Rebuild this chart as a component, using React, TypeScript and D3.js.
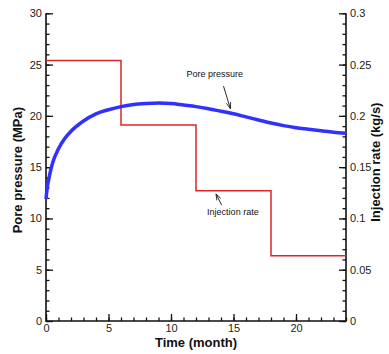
import React, { useEffect, useRef } from "react";
import * as d3 from "d3";

// pore pressure (MPa) vs time (month)
const pressureTime = [0, 0.1, 0.25, 0.5, 1, 1.5, 2, 3, 4, 5, 6, 7, 8, 9, 10, 11, 12, 13, 14, 15, 16, 17, 18, 19, 20, 21, 22, 23, 24];
const pressureValues = [11.9, 13.0, 14.0, 15.3, 16.8, 17.8, 18.5, 19.5, 20.2, 20.6, 20.9, 21.1, 21.2, 21.25, 21.2, 21.05, 20.9, 20.7, 20.45, 20.2, 19.9, 19.6, 19.3, 19.05, 18.85, 18.7, 18.55, 18.4, 18.3];

// injection rate (kg/s), step schedule
const rateTime = [0, 6, 12, 18, 24];
const rateValues = [0.254, 0.191, 0.127, 0.0635, 0.0635];

const xTicks = [0, 5, 10, 15, 20];
const leftTicks = [0, 5, 10, 15, 20, 25, 30];
const rightTicks = [0, 0.05, 0.1, 0.15, 0.2, 0.25, 0.3];

const FONT = "'Liberation Sans', Arial, sans-serif";

const App: React.FC = () => {
  const svgRef = useRef<SVGSVGElement | null>(null);

  useEffect(() => {
    if (!svgRef.current) return;
    const width = 389;
    const height = 354;
    const svg = d3.select(svgRef.current);
    svg.selectAll("*").remove();
    svg.attr("width", width).attr("height", height);

    // plot area
    const x0 = 46, x1 = 346, yTop = 13.3, yBot = 321;

    const x = d3.scaleLinear().domain([0, 24]).range([x0, x1]);
    const yL = d3.scaleLinear().domain([0, 30]).range([yBot, yTop]);
    const yR = d3.scaleLinear().domain([0, 0.3]).range([yBot, yTop]);

    const g = svg.append("g");

    const styleAxis = (sel: d3.Selection<SVGGElement, unknown, null, undefined>) => {
      sel.select(".domain").remove();
      sel.selectAll(".tick line").attr("stroke", "#111").attr("stroke-width", 1.3);
      sel.selectAll(".tick text")
        .attr("fill", "#222")
        .style("font-family", FONT)
        .style("font-size", "11px");
    };

    // minor ticks
    const minorX = g.append("g").attr("transform", `translate(0,${yBot})`)
      .call(d3.axisBottom(x).tickValues(d3.range(0, 25)).tickSize(-3.5).tickFormat(() => ""));
    styleAxis(minorX);
    const minorL = g.append("g").attr("transform", `translate(${x0},0)`)
      .call(d3.axisLeft(yL).tickValues(d3.range(0, 31)).tickSize(-3.5).tickFormat(() => ""));
    styleAxis(minorL);
    const minorR = g.append("g").attr("transform", `translate(${x1},0)`)
      .call(d3.axisRight(yR).tickValues(d3.range(0, 31).map((d) => d / 100)).tickSize(-3.5).tickFormat(() => ""));
    styleAxis(minorR);

    // major ticks
    const xAxis = g.append("g").attr("transform", `translate(0,${yBot})`)
      .call(d3.axisBottom(x).tickValues(xTicks).tickSize(-7).tickPadding(3).tickFormat(d3.format("d")));
    styleAxis(xAxis);
    const lAxis = g.append("g").attr("transform", `translate(${x0},0)`)
      .call(d3.axisLeft(yL).tickValues(leftTicks).tickSize(-7).tickPadding(4).tickFormat(d3.format("d")));
    styleAxis(lAxis);
    const rAxis = g.append("g").attr("transform", `translate(${x1},0)`)
      .call(d3.axisRight(yR).tickValues(rightTicks).tickSize(-7).tickPadding(4).tickFormat((d) => String(+d)));
    styleAxis(rAxis);

    // axis lines
    g.append("path")
      .attr("d", `M${x0},${yTop}V${yBot}H${x1}V${yTop}`)
      .attr("fill", "none")
      .attr("stroke", "#111")
      .attr("stroke-width", 1.6);

    // injection rate step line
    const rateData = rateTime.map((t, i) => ({ t, v: rateValues[i] }));
    g.append("path")
      .datum(rateData)
      .attr("fill", "none")
      .attr("stroke", "#dd2424")
      .attr("stroke-width", 1.5)
      .attr("d", d3.line<{ t: number; v: number }>().x((d) => x(d.t)).y((d) => yR(d.v)).curve(d3.curveStepAfter));

    // pore pressure curve
    const pData = pressureTime.map((t, i) => ({ t, v: pressureValues[i] }));
    g.append("path")
      .datum(pData)
      .attr("fill", "none")
      .attr("stroke", "#3030ff")
      .attr("stroke-width", 3.5)
      .attr("stroke-linejoin", "round")
      .attr("d", d3.line<{ t: number; v: number }>().x((d) => x(d.t)).y((d) => yL(d.v)).curve(d3.curveMonotoneX));

    // annotations
    const defs = svg.append("defs");
    defs.append("marker")
      .attr("id", "arrow")
      .attr("viewBox", "0 0 10 10")
      .attr("refX", 10).attr("refY", 5)
      .attr("markerWidth", 7).attr("markerHeight", 7)
      .attr("orient", "auto")
      .append("path")
      .attr("d", "M0,1.5L10,5L0,8.5")
      .attr("fill", "none")
      .attr("stroke", "#111")
      .attr("stroke-width", 1.2);

    g.append("text")
      .attr("x", x(13.5)).attr("y", yL(23.8))
      .attr("text-anchor", "middle")
      .style("font-family", FONT).style("font-size", "9px").attr("fill", "#111")
      .text("Pore pressure");
    g.append("line")
      .attr("x1", x(14.2)).attr("y1", yL(22.9))
      .attr("x2", x(14.75)).attr("y2", yL(20.7))
      .attr("stroke", "#111").attr("stroke-width", 0.9)
      .attr("marker-end", "url(#arrow)");

    g.append("text")
      .attr("x", x(14.95)).attr("y", yL(10.3))
      .attr("text-anchor", "middle")
      .style("font-family", FONT).style("font-size", "9px").attr("fill", "#111")
      .text("Injection rate");
    g.append("line")
      .attr("x1", x(14.05)).attr("y1", yR(0.113))
      .attr("x2", x(13.6)).attr("y2", yR(0.124))
      .attr("stroke", "#111").attr("stroke-width", 0.9)
      .attr("marker-end", "url(#arrow)");

    // axis titles
    g.append("text")
      .attr("x", (x0 + x1) / 2).attr("y", 347)
      .attr("text-anchor", "middle")
      .style("font-family", FONT).style("font-size", "13px").style("font-weight", "bold")
      .attr("fill", "#111")
      .text("Time (month)");
    g.append("text")
      .attr("transform", `translate(22,${(yTop + yBot) / 2 + 3}) rotate(-90)`)
      .attr("text-anchor", "middle")
      .style("font-family", FONT).style("font-size", "13px").style("font-weight", "bold")
      .attr("fill", "#111")
      .text("Pore pressure (MPa)");
    g.append("text")
      .attr("transform", `translate(380,${(yTop + yBot) / 2 - 5}) rotate(-90)`)
      .attr("text-anchor", "middle")
      .style("font-family", FONT).style("font-size", "13px").style("font-weight", "bold")
      .attr("fill", "#111")
      .text("Injection rate (kg/s)");
  }, []);

  return (
    <div style={{ position: "absolute", left: 0, top: 0 }}>
      <svg ref={svgRef} />
    </div>
  );
};

export default App;
